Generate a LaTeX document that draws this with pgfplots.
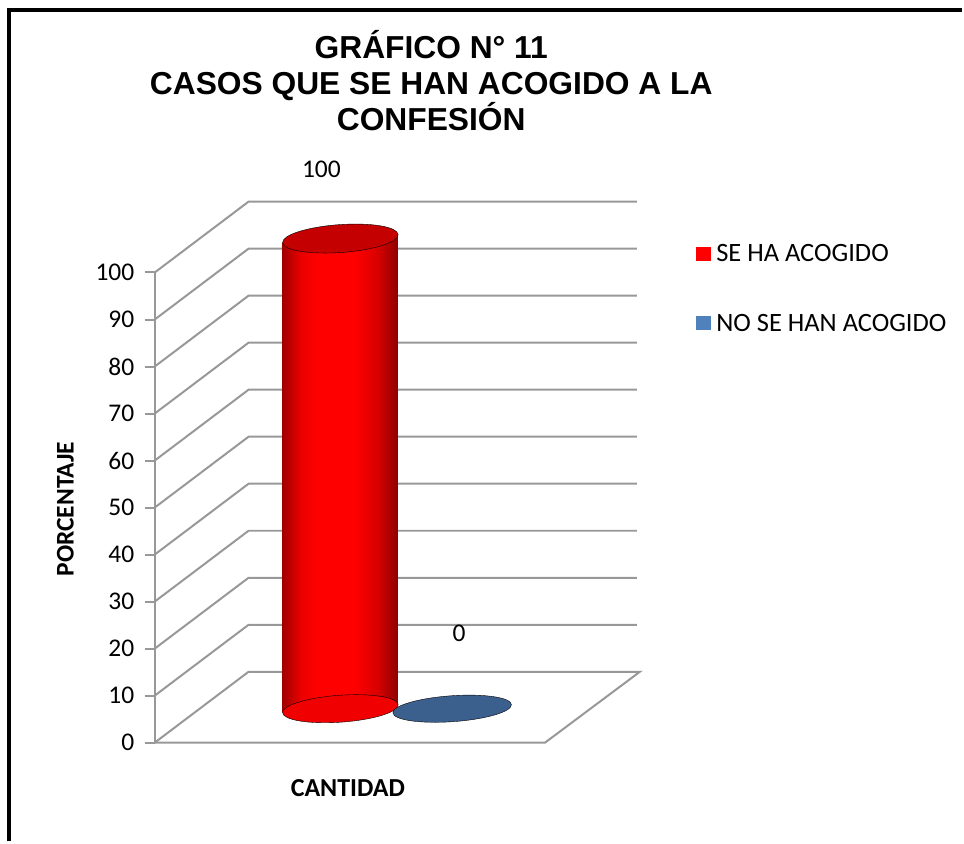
\documentclass[border=0pt]{standalone}
\usepackage{pgfplots}
\pgfplotsset{compat=1.18}
\usepackage{fontspec}
\setmainfont{Carlito}
\newfontfamily\arialfont{Liberation Sans}
\definecolor{gridgray}{HTML}{989898}
\definecolor{cylred}{HTML}{FF0000}
\definecolor{cylmid}{HTML}{EB0000}
\definecolor{cylmidr}{HTML}{D80000}
\definecolor{cyldark}{HTML}{A00000}
\definecolor{cyldarkr}{HTML}{8C0000}
\definecolor{captop}{HTML}{C40000}
\definecolor{blueflat}{HTML}{3C608E}
\definecolor{bluelegend}{HTML}{4F81BD}
\pgfdeclarehorizontalshading{cylshade}{100bp}{color(0bp)=(cyldark); color(25bp)=(cyldark); color(33bp)=(cylmid); color(40bp)=(cylred); color(56bp)=(cylred); color(66bp)=(cylmidr); color(75bp)=(cyldarkr); color(100bp)=(cyldarkr)}
\begin{document}
\begin{tikzpicture}[x=1pt,y=1pt]
\path (0,0) rectangle (964,843);
% frame
\draw[line width=3.5pt] (9,0) -- (9,833) -- (964,833);
% title
\node[font=\arialfont\bfseries\fontsize{31.8}{36}\selectfont, anchor=base] at (432,784) {GRÁFICO N° 11};
\node[font=\arialfont\bfseries\fontsize{31.8}{36}\selectfont, anchor=base] at (432,748) {CASOS QUE SE HAN ACOGIDO A LA};
\node[font=\arialfont\bfseries\fontsize{31.8}{36}\selectfont, anchor=base] at (432,712) {CONFESIÓN};
% axis labels
\node[font=\bfseries\fontsize{25.5}{30}\selectfont, rotate=90] at (65.5,333) {PORCENTAJE};
\node[font=\bfseries\fontsize{26}{30}\selectfont] at (348.5,53) {CANTIDAD};

% back walls, floor and value axis
\begin{axis}[
  at={(155pt,99pt)}, anchor=south west,
  scale only axis, width=486pt, height=471pt,
  xmin=155, xmax=641, ymin=0, ymax=100,
  clip=false,
  separate axis lines,
  axis x line=none,
  axis y line*=left,
  y axis line style={-, gridgray, line width=2pt},
  ytick={0,10,...,100},
  tick align=outside,
  major tick length=10pt,
  ytick style={gridgray, line width=2pt},
  /pgf/number format/assume math mode=true,
  yticklabel style={font=\fontsize{25.5}{30}\selectfont, xshift=-7pt},
  legend style={at={(1.1152,1.064)}, anchor=north west, draw=none, fill=none,
    font=\fontsize{26.5}{30}\selectfont, row sep=47pt, inner sep=0pt},
  legend cell align=left,
  legend image code/.code={\fill[#1] (0pt,-6pt) rectangle (14pt,7pt); \path (18pt,0pt);},
]
\pgfplotsinvokeforeach{0,10,...,100}{
  \addplot[forget plot, gridgray, line width=2pt, y filter/.expression={y+#1}]
    coordinates {(155,0) (249,15.07) (638,15.07)};
}
\addplot[forget plot, gridgray, line width=2pt] coordinates {(155,0) (546,0) (641,15.07) (638,15.07)};
\addlegendimage{cylred}
\addlegendentry{SE HA ACOGIDO}
\addlegendimage{bluelegend}
\addlegendentry{NO SE HAN ACOGIDO}
\end{axis}

% cylinders (mid-depth plane)
\begin{axis}[
  at={(202pt,133pt)}, anchor=south west,
  scale only axis, width=486pt, height=471pt,
  xmin=202, xmax=688, ymin=0, ymax=100,
  hide axis, clip=false,
]
% SE HA ACOGIDO = 100 : bottom cap, body, top cap
\addplot[only marks, mark=*, mark size=10pt,
  mark options={draw=none, fill=red!94!black, rotate=4, xscale=5.8, yscale=1.35}]
  coordinates {(341,0)};
\addplot[draw=none, shading=cylshade, shade]
  coordinates {(283,-0.86) (283,99.14) (399,100.86) (399,0.86)} -- cycle;
\addplot[only marks, mark=*, mark size=10pt,
  mark options={draw=none, fill=captop, rotate=4, xscale=5.8, yscale=1.4},
  point meta=explicit symbolic, nodes near coords,
  every node near coord/.append style={font=\fontsize{25.5}{30}\selectfont, anchor=center, xshift=-19pt, yshift=69pt}]
  coordinates {(341,100) [100]};
% NO SE HAN ACOGIDO = 0 : flat disc
\addplot[only marks, mark=*, mark size=10pt,
  mark options={draw=none, fill=blueflat, rotate=4, xscale=5.95, yscale=1.3},
  point meta=explicit symbolic, nodes near coords,
  every node near coord/.append style={font=\fontsize{25.5}{30}\selectfont, anchor=center, xshift=7pt, yshift=76pt}]
  coordinates {(453,0) [0]};
\end{axis}
\end{tikzpicture}
\end{document}
